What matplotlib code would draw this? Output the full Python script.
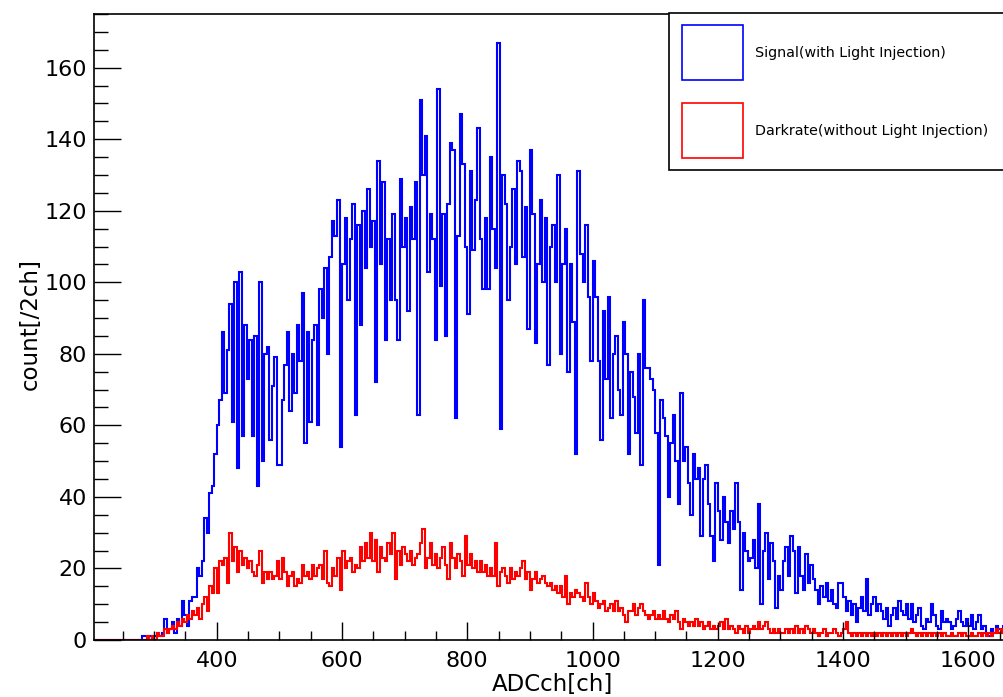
import numpy as np
import matplotlib
matplotlib.use("Agg")
import matplotlib.pyplot as plt
from matplotlib.patches import Rectangle
from matplotlib.ticker import MultipleLocator

# ---------------- data (counts per bin, 4 ch per bin, first bin starts at 280 ch) ----------------
BIN_WIDTH = 4
FIRST_EDGE = 280
AXIS_START = 200  # empty (zero) bins drawn from here up to FIRST_EDGE

signal = [
    # 280-380
    1, 1, 0, 1, 0, 1, 2, 1, 2, 6, 2, 3, 5, 2, 6, 4, 11, 7, 4, 11, 12, 12, 20, 18, 22,
    # 380-480
    34, 30, 41, 43, 52, 60, 67, 86, 69, 81, 94, 61, 100, 48, 103, 57, 88, 73, 84, 57, 85, 43, 100, 50, 80,
    # 480-580
    82, 56, 71, 79, 49, 49, 67, 77, 86, 64, 80, 69, 88, 78, 97, 55, 86, 61, 84, 88, 60, 98, 90, 104, 80,
    # 580-680
    107, 117, 113, 123, 54, 105, 118, 95, 112, 122, 63, 116, 88, 120, 104, 126, 110, 117, 72, 134, 105, 128, 84, 112, 95,
    # 680-780
    119, 95, 84, 129, 110, 118, 92, 121, 112, 128, 63, 151, 130, 141, 103, 119, 112, 84, 154, 99, 119, 85, 122, 139, 137,
    # 780-880
    62, 113, 147, 133, 110, 91, 131, 109, 123, 143, 112, 98, 118, 98, 135, 115, 104, 167, 59, 130, 122, 95, 110, 126, 105,
    # 880-980
    134, 131, 107, 121, 87, 137, 119, 83, 105, 123, 100, 118, 77, 110, 116, 100, 130, 80, 105, 115, 75, 105, 89, 52, 131,
    # 980-1080
    108, 100, 116, 96, 78, 106, 96, 78, 56, 92, 73, 96, 62, 80, 85, 70, 63, 89, 80, 52, 75, 68, 58, 80, 49,
    # 1080-1180
    95, 76, 76, 73, 70, 58, 21, 67, 62, 57, 40, 55, 63, 50, 38, 69, 50, 54, 44, 35, 52, 45, 48, 29, 45,
    # 1180-1280
    49, 38, 29, 22, 44, 36, 28, 40, 33, 27, 36, 31, 44, 33, 14, 30, 25, 22, 23, 28, 20, 38, 10, 25, 30,
    # 1280-1380
    17, 27, 22, 9, 18, 14, 22, 26, 18, 29, 25, 13, 26, 18, 14, 24, 16, 21, 17, 14, 10, 15, 12, 16, 11,
    # 1380-1480
    14, 10, 9, 16, 16, 12, 8, 11, 7, 10, 5, 9, 12, 8, 17, 7, 10, 12, 8, 10, 8, 6, 9, 4, 7,
    # 1480-1580
    9, 6, 11, 8, 7, 10, 6, 10, 5, 7, 9, 4, 3, 6, 5, 10, 7, 4, 3, 8, 5, 6, 5, 3, 4,
    # 1580-1660
    6, 8, 5, 4, 6, 4, 7, 3, 5, 7, 3, 4, 2, 1, 3, 2, 4, 3, 2, 4,
]

darkrate = [
    # 280-380
    0, 0, 1, 0, 1, 0, 2, 1, 1, 3, 2, 3, 4, 3, 5, 4, 6, 5, 7, 6, 8, 7, 9, 6, 10,
    # 380-480
    12, 8, 15, 13, 20, 13, 22, 21, 23, 16, 30, 22, 26, 19, 25, 21, 23, 20, 22, 19, 18, 21, 25, 16, 19,
    # 480-580
    17, 19, 17, 18, 22, 17, 23, 19, 15, 18, 19, 15, 17, 16, 21, 18, 19, 17, 21, 18, 20, 21, 17, 25, 16,
    # 580-680
    15, 20, 18, 23, 14, 25, 20, 22, 23, 19, 21, 20, 26, 22, 27, 23, 30, 22, 28, 19, 26, 23, 22, 27, 24,
    # 680-780
    30, 17, 25, 21, 26, 24, 22, 25, 21, 23, 24, 27, 31, 20, 23, 27, 21, 24, 20, 23, 26, 21, 17, 27, 23,
    # 780-880
    20, 24, 22, 18, 29, 21, 24, 20, 22, 19, 22, 19, 21, 18, 20, 18, 27, 15, 19, 20, 18, 16, 20, 17, 19,
    # 880-980
    18, 20, 22, 17, 19, 14, 17, 19, 16, 17, 18, 16, 15, 16, 14, 15, 13, 15, 12, 18, 10, 13, 12, 14, 13,
    # 980-1080
    12, 11, 16, 12, 10, 13, 11, 9, 10, 11, 8, 9, 10, 8, 11, 8, 9, 7, 5, 8, 8, 10, 7, 9, 10,
    # 1080-1180
    8, 7, 6, 7, 8, 6, 7, 6, 8, 6, 5, 7, 6, 8, 5, 3, 6, 5, 4, 5, 4, 6, 4, 5, 3,
    # 1180-1280
    4, 5, 3, 4, 3, 4, 5, 3, 6, 3, 4, 3, 2, 4, 3, 2, 4, 2, 3, 4, 3, 5, 3, 4, 5,
    # 1280-1380
    3, 2, 3, 2, 3, 2, 2, 3, 2, 3, 2, 4, 2, 3, 2, 4, 3, 2, 3, 2, 1, 2, 3, 1, 2,
    # 1380-1480
    2, 3, 2, 1, 2, 3, 5, 2, 1, 2, 1, 2, 1, 2, 1, 2, 1, 2, 1, 2, 1, 2, 1, 2, 1,
    # 1480-1580
    2, 1, 2, 1, 2, 1, 2, 3, 2, 1, 2, 1, 2, 1, 2, 1, 2, 1, 2, 1, 2, 1, 1, 2, 1,
    # 1580-1660
    1, 2, 1, 2, 1, 1, 2, 1, 1, 2, 1, 2, 1, 2, 1, 2, 3, 2, 3, 2,
]

x_ticks = [400, 600, 800, 1000, 1200, 1400, 1600]
y_ticks = [0, 20, 40, 60, 80, 100, 120, 140, 160]
x_range = (204, 1657)
y_range = (0, 175)
legend_labels = ["Signal(with Light Injection)", "Darkrate(without Light Injection)"]
colors = ["#0000ff", "#ff0000"]
x_title = "ADCch[ch]"
y_title = "count[/2ch]"

# ---------------- figure ----------------
plt.rcParams["font.family"] = ["DejaVu Sans"]
W, H = 1004, 697
fig = plt.figure(figsize=(W / 100, H / 100), dpi=100)
ax = fig.add_axes([94 / W, (H - 640) / H, (1004 - 94) / W, (640 - 14) / H])

def padded(vals):
    n_pad = (FIRST_EDGE - AXIS_START) // BIN_WIDTH
    v = np.concatenate([np.zeros(n_pad), np.asarray(vals, dtype=float)])
    e = AXIS_START + BIN_WIDTH * np.arange(len(v) + 1)
    return v, e

for vals, col in zip([signal, darkrate], colors):
    v, e = padded(vals)
    ax.stairs(v, e, baseline=None, color=col, lw=1.5)

ax.set_xlim(*x_range)
ax.set_ylim(*y_range)
ax.set_xticks(x_ticks)
ax.set_yticks(y_ticks)
ax.xaxis.set_minor_locator(MultipleLocator(50))
ax.yaxis.set_minor_locator(MultipleLocator(5))
ax.tick_params(axis="x", which="major", direction="in", length=13, width=1.0,
               labelsize=16, pad=8, top=False)
ax.tick_params(axis="x", which="minor", direction="in", length=6.5, width=1.0, top=False)
ax.tick_params(axis="y", which="major", direction="in", length=19.5, width=1.0,
               labelsize=16, pad=5, right=False)
ax.tick_params(axis="y", which="minor", direction="in", length=10, width=1.0, right=False)
for s in ["left", "bottom", "top"]:
    ax.spines[s].set_linewidth(1.2)
ax.spines["right"].set_visible(False)

fig.text(553 / W, 1 - 684 / H, x_title, ha="center", va="center", fontsize=16.5)
fig.text(30 / W, 1 - 324 / H, y_title, ha="center", va="center", fontsize=16.5, rotation=90)

# legend box (ROOT style) in pixel-based figure coordinates
def fx(px):
    return px / W

def fy(py):
    return 1 - py / H

fig.add_artist(Rectangle((fx(669), fy(170)), fx(1010) - fx(669), fy(13) - fy(170),
                         transform=fig.transFigure, fill=True, facecolor="white",
                         edgecolor="black", lw=1.2, zorder=5))
entry_rows = [(25, 80), (103, 158)]
for (top, bot), col, lab in zip(entry_rows, colors, legend_labels):
    fig.add_artist(Rectangle((fx(682), fy(bot)), fx(743) - fx(682), fy(top) - fy(bot),
                             transform=fig.transFigure, fill=False, edgecolor=col,
                             lw=1.2, zorder=6))
    fig.text(fx(755), fy((top + bot) / 2), lab, ha="left", va="center",
             fontsize=10.3, zorder=7)

fig.savefig("out.png", dpi=100)
